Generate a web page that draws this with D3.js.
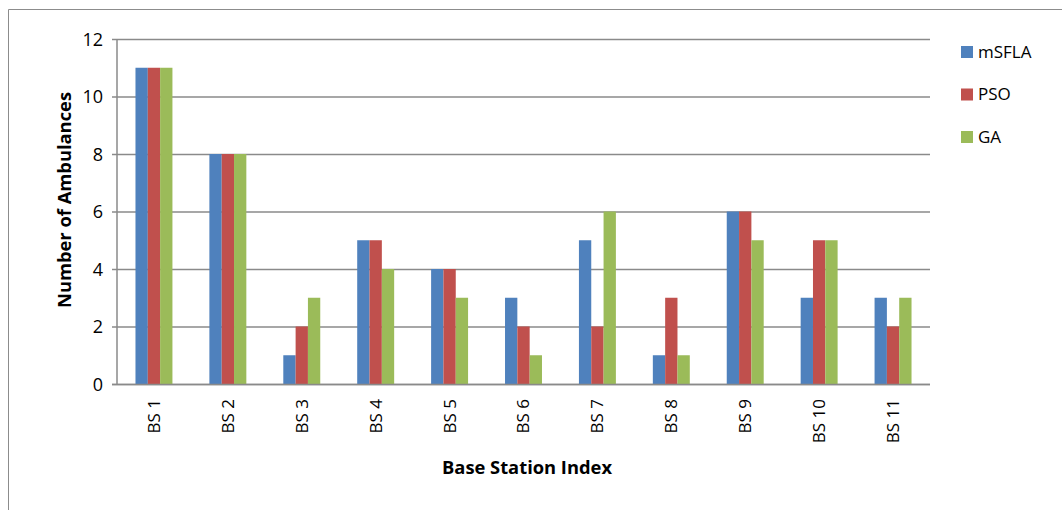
<!DOCTYPE html>
<html>
<head>
<meta charset="utf-8">
<script src="https://cdn.jsdelivr.net/npm/d3@7"></script>
<style>
  html, body { margin: 0; padding: 0; background: #fff; }
  svg { display: block; font-family: "Open Sans", "Liberation Sans", sans-serif; }
</style>
</head>
<body>
<svg id="chart" width="1062" height="510"></svg>
<script>
// Ambulances allocated to each base station by three optimisers
const stations = ["BS 1", "BS 2", "BS 3", "BS 4", "BS 5", "BS 6", "BS 7", "BS 8", "BS 9", "BS 10", "BS 11"];
const seriesNames = ["mSFLA", "PSO", "GA"];
const msfla = [11, 8, 1, 5, 4, 3, 5, 1, 6, 3, 3];
const pso   = [11, 8, 2, 5, 4, 2, 2, 3, 6, 5, 2];
const ga    = [11, 8, 3, 4, 3, 1, 6, 1, 5, 5, 3];
const yTicks = [0, 2, 4, 6, 8, 10, 12];
const colors = ["#4F81BD", "#C0504D", "#9BBB59"];

const seriesValues = [msfla, pso, ga];
const rows = stations.map((s, i) => ({ station: s, values: seriesValues.map((v, k) => ({ name: seriesNames[k], value: v[i] })) }));

const svg = d3.select("#chart");
const plot = { left: 117, right: 930, top: 39, bottom: 384 };
const font = "'Open Sans', 'Liberation Sans', sans-serif";

// chart frame
svg.append("path")
  .attr("d", "M8.5,510 L8.5,9.5 L1062,9.5")
  .attr("fill", "none").attr("stroke", "#8c8c8c").attr("stroke-width", 1);

const x = d3.scaleBand().domain(stations).range([plot.left, plot.right]).paddingInner(0.5).paddingOuter(0.25);
const xInner = d3.scaleBand().domain(seriesNames).range([0, x.bandwidth()]);
const y = d3.scaleLinear().domain([0, 12]).range([plot.bottom, plot.top]);

// gridlines with left tick marks
const yAxis = d3.axisLeft(y).tickValues(yTicks).tickSize(-(plot.right - plot.left)).tickPadding(14);
const gy = svg.append("g").attr("transform", `translate(${plot.left},0)`).call(yAxis);
gy.select(".domain").remove();
gy.selectAll(".tick line").attr("stroke", "#8a8a8a").attr("stroke-width", 1.3).attr("x1", -5);
gy.selectAll(".tick text").attr("font-size", 18).attr("fill", "#000").attr("dy", "0.35em")
  .attr("font-family", font);

// value axis line
svg.append("line").attr("x1", plot.left).attr("x2", plot.left)
  .attr("y1", plot.top).attr("y2", plot.bottom).attr("stroke", "#8a8a8a").attr("stroke-width", 1.5);

// bars
const groups = svg.append("g").selectAll("g").data(rows).join("g")
  .attr("transform", d => `translate(${x(d.station)},0)`);
groups.selectAll("rect").data(d => d.values).join("rect")
  .attr("x", d => xInner(d.name))
  .attr("width", xInner.bandwidth())
  .attr("y", d => y(d.value))
  .attr("height", d => y(0) - y(d.value))
  .attr("fill", (d, i) => colors[i]);

// category axis
const xAxis = d3.axisBottom(x).tickSize(0).tickPadding(0);
const gx = svg.append("g").attr("transform", `translate(0,${plot.bottom})`).call(xAxis);
gx.select(".domain").attr("stroke", "#8a8a8a").attr("stroke-width", 1.5)
  .attr("d", `M${plot.left - 5},0.5H${plot.right}`);
gx.selectAll(".tick text")
  .attr("font-size", 17).attr("fill", "#000")
  .attr("transform", "translate(0,15) rotate(-90)")
  .attr("text-anchor", "end").attr("dy", "0.35em").attr("x", 0).attr("y", 0)
  .attr("font-family", font);

// axis titles
svg.append("text").attr("transform", "translate(71,200) rotate(-90)")
  .attr("text-anchor", "middle").attr("font-weight", "bold").attr("font-size", 18)
  .attr("font-family", font)
  .attr("textLength", 216).attr("lengthAdjust", "spacingAndGlyphs")
  .text("Number of Ambulances");
svg.append("text").attr("x", 527).attr("y", 474)
  .attr("text-anchor", "middle").attr("font-weight", "bold").attr("font-size", 18)
  .attr("font-family", font)
  .attr("textLength", 170).attr("lengthAdjust", "spacingAndGlyphs")
  .text("Base Station Index");

// legend
const legend = svg.append("g").selectAll("g").data(seriesNames).join("g")
  .attr("transform", (d, i) => `translate(961,${46 + i * 42.5})`);
legend.append("rect").attr("width", 12).attr("height", 12).attr("fill", (d, i) => colors[i]);
legend.append("text").attr("x", 17).attr("y", 6).attr("dy", "0.35em")
  .attr("font-size", 17).attr("fill", "#000")
  .attr("font-family", font)
  .text(d => d);
</script>
</body>
</html>
